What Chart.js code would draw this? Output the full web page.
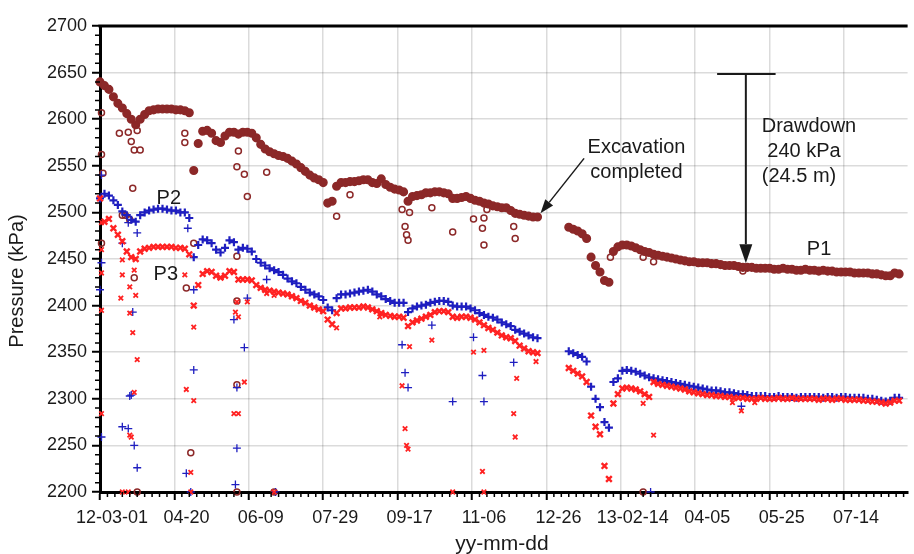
<!DOCTYPE html>
<html>
<head>
<meta charset="utf-8">
<title>Pore pressure P1 - P3</title>
<script src="https://cdn.jsdelivr.net/npm/chart.js@4.4.1/dist/chart.umd.min.js"></script>
<style>
  html, body { margin: 0; padding: 0; background: #fff; }
</style>
</head>
<body>
<canvas id="pressure" width="914" height="554"></canvas>
<script>
"use strict";

// x values are days counted from 2012-03-01
const xTickLabels = ["12-03-01", "04-20", "06-09", "07-29", "09-17", "11-06",
  "12-26", "13-02-14", "04-05", "05-25", "07-14"];

// main reading every 3 days (null = no reading)
const trendDays = [
  0, 3, 6, 9, 12, 15, 18, 21, 24, 27,
  30, 33, 36, 39, 42, 45, 48, 51, 54, 57,
  60, 63, 66, 69, 72, 75, 78, 81, 84, 87,
  90, 93, 96, 99, 102, 105, 108, 111, 114, 117,
  120, 123, 126, 129, 132, 135, 138, 141, 144, 147,
  150, 153, 156, 159, 162, 165, 168, 171, 174, 177,
  180, 183, 186, 189, 192, 195, 198, 201, 204, 207,
  210, 213, 216, 219, 222, 225, 228, 231, 234, 237,
  240, 243, 246, 249, 252, 255, 258, 261, 264, 267,
  270, 273, 276, 279, 282, 285, 288, 291, 294, 297,
  300, 303, 306, 309, 312, 315, 318, 321, 324, 327,
  330, 333, 336, 339, 342, 345, 348, 351, 354, 357,
  360, 363, 366, 369, 372, 375, 378, 381, 384, 387,
  390, 393, 396, 399, 402, 405, 408, 411, 414, 417,
  420, 423, 426, 429, 432, 435, 438, 441, 444, 447,
  450, 453, 456, 459, 462, 465, 468, 471, 474, 477,
  480, 483, 486, 489, 492, 495, 498, 501, 504, 507,
  510, 513, 516, 519, 522, 525, 528, 531, 534, 537
];

const p1Trend = [
  2640, 2636, 2632, 2624, 2617, 2612, 2606, 2600, 2594, 2600,
  2605, 2609, 2610, 2611, 2611, 2611, 2611, 2610, 2610, 2609,
  2607, 2545, 2574, 2587, 2588, 2585, 2577, 2575, 2582, 2586,
  2586, 2584, 2586, 2586, 2585, 2580, 2573, 2568, 2565, 2563,
  2561, 2560, 2558, 2555, 2552, 2548, 2544, 2540, 2537, 2535,
  2532, 2510, 2512, 2528, 2532, 2532, 2533, 2533, 2534, 2535,
  2535, 2532, 2531, 2536, 2530, 2527, 2525, 2524, 2522, 2512,
  2517, 2518, 2519, 2521, 2521, 2522, 2522, 2521, 2520, 2515,
  2515, 2516, 2517, 2515, 2513, 2512, 2510, 2509, 2507, 2506,
  2505, 2505, 2502, 2499, 2498, 2497, 2496, 2495, 2495, null,
  null, null, null, null, null, 2484, 2482, 2480, 2477, 2472,
  2452, 2443, 2436, 2427, 2425, 2458, 2463, 2465, 2465, 2464,
  2462, 2460, 2458, 2457, 2455, 2454, 2453, 2452, 2451, 2450,
  2449, 2448, 2447, 2447, 2446, 2446, 2446, 2445, 2445, 2444,
  2443, 2443, 2443, 2442, 2441, 2441, 2441, 2440, 2440, 2440,
  2440, 2439, 2439, 2440, 2439, 2439, 2438, 2438, 2439, 2438,
  2438, 2437, 2438, 2437, 2437, 2436, 2436, 2436, 2436, 2435,
  2435, 2435, 2435, 2434, 2434, 2433, 2432, 2432, 2435, 2434
];

const p2Trend = [
  2515, 2520, 2518, 2513, 2508, 2501, 2497, 2492, 2490, 2497,
  2500, 2502, 2503, 2504, 2504, 2503, 2502, 2502, 2500, 2500,
  2494, 2452, 2465, 2471, 2470, 2467, 2460, 2457, 2462, 2470,
  2468, 2460, 2462, 2461, 2458, 2450, 2446, 2443, 2440, 2438,
  2436, 2433, 2429, 2426, 2424, 2420, 2417, 2414, 2412, 2410,
  2406, 2398, 2395, 2408, 2412, 2412, 2413, 2414, 2415, 2416,
  2417, 2415, 2412, 2410, 2407, 2405, 2403, 2403, 2403, 2393,
  2397, 2399, 2400, 2401, 2403, 2404, 2405, 2405, 2404, 2400,
  2399, 2399, 2399, 2397, 2395, 2392, 2390, 2388, 2387, 2385,
  2382, 2380, 2378, 2374, 2372, 2370, 2368, 2366, 2365, null,
  null, null, null, null, null, 2351, 2349, 2347, 2345, 2340,
  2313, 2300, 2291, 2275, 2269, 2318, 2322, 2330, 2331, 2330,
  2329, 2327, 2325, 2323, 2322, 2321, 2320, 2319, 2318, 2317,
  2316, 2315, 2314, 2313, 2312, 2311, 2310, 2309, 2309, 2308,
  2307, 2307, 2306, 2305, 2305, 2304, 2303, 2303, 2303, 2303,
  2302, 2302, 2303, 2302, 2302, 2302, 2301, 2302, 2302, 2302,
  2302, 2302, 2301, 2302, 2302, 2301, 2302, 2302, 2301, 2301,
  2301, 2301, 2300, 2300, 2299, 2298, 2297, 2298, 2301, 2301
];

const p3Trend = [
  2515, 2490, 2493, 2483, 2476, 2469, 2458, 2452, 2450, 2458,
  2461, 2462, 2463, 2463, 2463, 2463, 2463, 2462, 2462, 2461,
  2455, 2400, 2422, 2434, 2437, 2436, 2432, 2430, 2432, 2437,
  2436, 2428, 2428, 2428, 2427, 2422, 2419, 2417, 2416, 2415,
  2414, 2413, 2412, 2410, 2408, 2405, 2403, 2400, 2398, 2396,
  2394, 2385, 2380, 2392, 2397, 2397, 2398, 2398, 2398, 2399,
  2398, 2396, 2394, 2392, 2390, 2389, 2388, 2388, 2387, 2378,
  2382, 2384, 2386, 2388, 2390, 2393, 2394, 2394, 2393, 2388,
  2387, 2388, 2388, 2387, 2385, 2382, 2379, 2376, 2374, 2371,
  2368, 2366, 2365, 2362, 2357, 2354, 2351, 2350, 2349, null,
  null, null, null, null, null, 2333, 2330, 2327, 2324, 2318,
  2282, 2270, 2262, 2228, 2214, 2295, 2305, 2311, 2312, 2311,
  2310, 2308, 2305, 2302, 2318, 2316, 2315, 2314, 2313, 2312,
  2311, 2310, 2308, 2307, 2306, 2305, 2304, 2304, 2303, 2303,
  2302, 2302, 2301, 2301, 2301, 2300, 2300, 2300, 2301, 2300,
  2300, 2300, 2301, 2300, 2300, 2301, 2300, 2300, 2300, 2300,
  2300, 2299, 2300, 2300, 2299, 2300, 2300, 2299, 2299, 2299,
  2299, 2298, 2298, 2297, 2297, 2296, 2295, 2296, 2298, 2298
];

// scattered single readings [day, kPa]
const p1Scatter = [
  [1, 2607], [1, 2562], [2, 2542], [1, 2467], [22, 2526], [15, 2497], [17, 2497],
  [20, 2492], [13, 2585], [19, 2586], [21, 2576], [23, 2567], [27, 2567], [25, 2588],
  [57, 2585], [57, 2575], [92, 2549], [97, 2541], [99, 2517], [93, 2566], [112, 2543],
  [168, 2519], [159, 2496], [23, 2430], [58, 2419], [63, 2467], [92, 2453], [92, 2405],
  [92, 2315], [61, 2242], [25, 2200], [92, 2200], [117, 2200], [203, 2503], [208, 2500],
  [205, 2485], [206, 2476], [207, 2470], [223, 2505], [237, 2479], [251, 2493],
  [258, 2494], [257, 2483], [258, 2465], [278, 2485], [279, 2472], [260, 2503],
  [343, 2452], [365, 2452], [372, 2447], [432, 2437], [365, 2200]
];

const p2Scatter = [
  [1, 2540], [0, 2417], [1, 2446], [1, 2259], [15, 2270], [19, 2268], [23, 2250],
  [25, 2226], [20, 2303], [21, 2304], [22, 2393], [25, 2478], [15, 2467], [19, 2489],
  [58, 2220], [63, 2331], [59, 2483], [63, 2417], [92, 2312], [92, 2247], [91, 2208],
  [90, 2385], [97, 2355], [99, 2408], [112, 2428], [118, 2200], [61, 2200], [203, 2358],
  [205, 2328], [207, 2312], [237, 2297], [251, 2366], [257, 2325], [258, 2297],
  [223, 2379], [278, 2339], [431, 2292], [370, 2200]
];

const p3Scatter = [
  [1, 2489], [1, 2460], [1, 2435], [1, 2395], [1, 2284], [14, 2408], [15, 2449],
  [15, 2433], [20, 2420], [20, 2392], [22, 2371], [25, 2342], [23, 2307], [20, 2261],
  [21, 2259], [15, 2200], [19, 2200], [24, 2411], [23, 2438], [57, 2433], [63, 2377],
  [58, 2310], [63, 2298], [61, 2221], [61, 2200], [92, 2404], [91, 2393], [93, 2388],
  [90, 2284], [93, 2284], [97, 2318], [99, 2404], [117, 2411], [112, 2413], [117, 2200],
  [159, 2376], [188, 2388], [203, 2314], [205, 2268], [206, 2250], [207, 2246],
  [208, 2356], [223, 2363], [251, 2350], [258, 2352], [257, 2222], [237, 2200],
  [258, 2200], [278, 2284], [279, 2259], [280, 2322], [293, 2340], [365, 2295],
  [372, 2261], [431, 2287], [425, 2296], [440, 2296]
];

const P1_COLOR = "#8c2828";
const P2_COLOR = "#1e1ec0";
const P3_COLOR = "#ff2222";
const TEXT_COLOR = "#1a1a1a";
const FONT = '"Liberation Sans", Arial, sans-serif';

function trendPoints(values) {
  return trendDays
    .map((d, i) => ({ x: d, y: values[i] }))
    .filter((p) => p.y !== null);
}

function scatterPoints(pairs) {
  return pairs.map(([d, v]) => ({ x: d, y: v }));
}

function arrow(ctx, x0, y0, x1, y1, len, half) {
  const ang = Math.atan2(y1 - y0, x1 - x0);
  const bx = x1 - len * Math.cos(ang);
  const by = y1 - len * Math.sin(ang);
  ctx.beginPath();
  ctx.moveTo(x0, y0);
  ctx.lineTo(bx, by);
  ctx.stroke();
  ctx.beginPath();
  ctx.moveTo(x1, y1);
  ctx.lineTo(bx + half * Math.sin(ang), by - half * Math.cos(ang));
  ctx.lineTo(bx - half * Math.sin(ang), by + half * Math.cos(ang));
  ctx.closePath();
  ctx.fill();
}

// frame top, minor ticks, axis titles and the notes on the plot
const decorations = {
  id: "decorations",
  afterDraw(chart) {
    const { ctx, chartArea: a } = chart;
    const x = chart.scales.x;
    const y = chart.scales.y;
    const px = (d) => x.getPixelForValue(d);
    const py = (v) => y.getPixelForValue(v);

    ctx.save();
    ctx.strokeStyle = "#000";
    ctx.lineWidth = 3;
    ctx.beginPath();
    ctx.moveTo(a.left - 1.5, a.top);
    ctx.lineTo(a.right, a.top);
    ctx.stroke();

    ctx.lineWidth = 1.5;
    ctx.beginPath();
    for (let d = 5; d < x.max; d += 5) {
      if (d % 50 === 0) continue;
      ctx.moveTo(px(d), a.bottom);
      ctx.lineTo(px(d), a.bottom + 5);
    }
    for (let v = 2210; v < 2700; v += 10) {
      if (v % 50 === 0) continue;
      ctx.moveTo(a.left - 5, py(v));
      ctx.lineTo(a.left, py(v));
    }
    ctx.stroke();

    ctx.fillStyle = TEXT_COLOR;
    ctx.textBaseline = "alphabetic";

    // axis titles
    ctx.font = "20px " + FONT;
    ctx.textAlign = "center";
    ctx.save();
    ctx.translate(23, 281);
    ctx.rotate(-Math.PI / 2);
    ctx.fillText("Pressure (kPa)", 0, 0);
    ctx.restore();
    ctx.font = "21px " + FONT;
    ctx.fillText("yy-mm-dd", 502, 550);

    // series labels
    ctx.font = "20px " + FONT;
    ctx.textAlign = "left";
    ctx.fillText("P2", px(38), py(2509));
    ctx.fillText("P3", px(36), py(2428));
    ctx.fillText("P1", px(475), py(2454));

    ctx.textAlign = "center";
    ctx.fillText("Excavation", px(360.5), py(2564));
    ctx.fillText("completed", px(360.5), py(2537));

    ctx.textAlign = "left";
    ctx.fillText("Drawdown", px(444.7), py(2586));
    ctx.fillText(" 240 kPa", px(444.7), py(2559));
    ctx.fillText("(24.5 m)", px(444.7), py(2533));

    ctx.strokeStyle = "#1a1a1a";
    ctx.fillStyle = "#1a1a1a";
    ctx.lineWidth = 1.5;
    arrow(ctx, px(325.3), py(2558), px(296), py(2499), 14, 5);

    ctx.lineWidth = 2;
    ctx.beginPath();
    ctx.moveTo(px(414.7), py(2648.5));
    ctx.lineTo(px(454), py(2648.5));
    ctx.stroke();
    arrow(ctx, px(434), py(2648.5), px(434), py(2445.5), 19, 6.5);
    ctx.restore();
  },
};

const ctx = document.getElementById("pressure");

new Chart(ctx, {
  type: "scatter",
  data: {
    datasets: [
      {
        label: "P1",
        data: trendPoints(p1Trend),
        pointStyle: "circle",
        pointRadius: 3.8,
        borderWidth: 1.5,
        borderColor: P1_COLOR,
        backgroundColor: P1_COLOR,
        order: 6,
        clip: false,
      },
      {
        label: "P1 single",
        data: scatterPoints(p1Scatter),
        pointStyle: "circle",
        pointRadius: 3,
        borderWidth: 1.5,
        borderColor: P1_COLOR,
        backgroundColor: "rgba(255,255,255,0)",
        order: 5,
        clip: false,
      },
      {
        label: "P2",
        data: trendPoints(p2Trend),
        pointStyle: "cross",
        pointRadius: 4,
        borderWidth: 2.2,
        borderColor: P2_COLOR,
        backgroundColor: P2_COLOR,
        order: 4,
        clip: false,
      },
      {
        label: "P2 single",
        data: scatterPoints(p2Scatter),
        pointStyle: "cross",
        pointRadius: 4,
        borderWidth: 1.3,
        borderColor: P2_COLOR,
        backgroundColor: P2_COLOR,
        order: 3,
        clip: false,
      },
      {
        label: "P3",
        data: trendPoints(p3Trend),
        pointStyle: "crossRot",
        pointRadius: 4,
        borderWidth: 2.4,
        borderColor: P3_COLOR,
        backgroundColor: P3_COLOR,
        order: 2,
        clip: false,
      },
      {
        label: "P3 single",
        data: scatterPoints(p3Scatter),
        pointStyle: "crossRot",
        pointRadius: 3.2,
        borderWidth: 1.8,
        borderColor: P3_COLOR,
        backgroundColor: P3_COLOR,
        order: 1,
        clip: false,
      },
    ],
  },
  options: {
    responsive: false,
    animation: false,
    layout: { padding: { top: 26, right: 0, left: 0, bottom: 0 } },
    plugins: {
      legend: { display: false },
      tooltip: { enabled: false },
    },
    scales: {
      x: {
        type: "linear",
        min: 0,
        max: 542.7,
        afterFit: (scale) => { scale.height = 62; },
        border: { display: true, color: "#000", width: 3 },
        grid: {
          color: "rgba(0,0,0,0.14)",
          lineWidth: 1.5,
          drawTicks: true,
          tickLength: 8,
          tickColor: "#000",
          tickWidth: 2,
        },
        ticks: {
          stepSize: 50,
          includeBounds: false,
          autoSkip: false,
          maxRotation: 0,
          labelOffset: 12,
          padding: 7,
          color: TEXT_COLOR,
          font: { family: FONT, size: 18 },
          callback: (v, i) => xTickLabels[i],
        },
      },
      y: {
        type: "linear",
        min: 2200,
        max: 2700,
        afterFit: (scale) => { scale.width = 100; },
        border: { display: true, color: "#000", width: 3 },
        grid: {
          color: "rgba(0,0,0,0.14)",
          lineWidth: 1.5,
          drawTicks: true,
          tickLength: 8,
          tickColor: "#000",
          tickWidth: 2,
        },
        ticks: {
          stepSize: 50,
          padding: 5,
          color: TEXT_COLOR,
          font: { family: FONT, size: 18 },
          callback: (v) => String(v),
        },
      },
    },
  },
  plugins: [decorations],
});
</script>
</body>
</html>
